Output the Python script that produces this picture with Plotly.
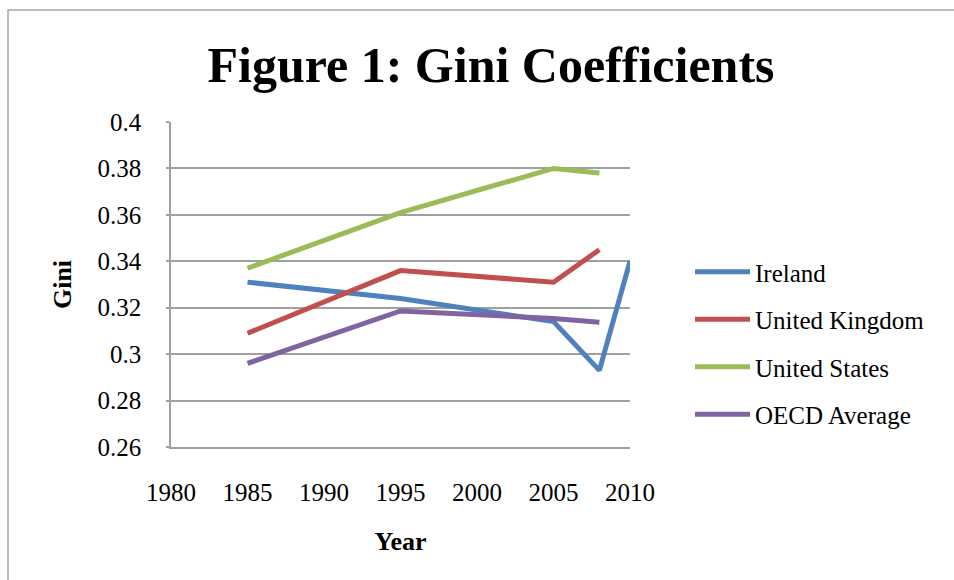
import plotly.graph_objects as go

years_ireland = [1985, 1995, 2005, 2008, 2010]
ireland = [0.331, 0.324, 0.314, 0.293, 0.340]
years = [1985, 1995, 2005, 2008]
united_kingdom = [0.309, 0.336, 0.331, 0.345]
united_states = [0.337, 0.361, 0.380, 0.378]
oecd_average = [0.296, 0.3186, 0.3154, 0.3137]

y_ticks = [0.26, 0.28, 0.30, 0.32, 0.34, 0.36, 0.38, 0.40]
y_tick_labels = ["0.26", "0.28", "0.3", "0.32", "0.34", "0.36", "0.38", "0.4"]
x_ticks = [1980, 1985, 1990, 1995, 2000, 2005, 2010]

FONT = "Liberation Serif"
W, H = 954, 580
L, R, T, B = 171, 324, 122, 133

fig = go.Figure()
series = [
    ("Ireland", years_ireland, ireland, "#4F81BD"),
    ("United Kingdom", years, united_kingdom, "#C0504D"),
    ("United States", years, united_states, "#9BBB59"),
    ("OECD Average", years, oecd_average, "#8064A2"),
]
for i, (name, xs, ys, col) in enumerate(series):
    fig.add_trace(go.Scatter(
        x=xs, y=ys, mode="lines", name=name, legendgroup=f"g{i}",
        line=dict(color=col, width=5),
    ))

pw = W - L - R
ph = H - T - B
fig.add_shape(
    type="rect", xref="paper", yref="paper",
    x0=(8 - L) / pw, x1=(W + 10 - L) / pw,
    y0=(H - B - (H + 10)) / ph, y1=(H - B - 10) / ph,
    line=dict(color="#A6A6A6", width=1.5), fillcolor="rgba(0,0,0,0)", layer="below",
)

fig.update_layout(
    width=W, height=H,
    margin=dict(l=L, r=R, t=T, b=B, pad=0),
    paper_bgcolor="white", plot_bgcolor="white",
    font=dict(family=FONT, size=25, color="black"),
    title=dict(
        text="<b>Figure 1: Gini Coefficients</b>",
        font=dict(family=FONT, size=50, color="black"),
        x=491 / W, xanchor="center", xref="container",
        y=1 - 64 / H, yanchor="middle", yref="container",
    ),
    xaxis=dict(
        range=[1980, 2010], tickvals=x_ticks, showgrid=False,
        showline=True, linecolor="#A0A0A0", linewidth=1.5,
        ticks="", ticklabelstandoff=22, zeroline=False,
        tickfont=dict(family=FONT, size=25),
        title=dict(text="<b>Year</b>", font=dict(family=FONT, size=26), standoff=27),
    ),
    yaxis=dict(
        range=[0.26, 0.40], tickvals=y_ticks, ticktext=y_tick_labels,
        showgrid=True, gridcolor="#A0A0A0", gridwidth=1.5,
        showline=True, linecolor="#A0A0A0", linewidth=1.5,
        ticks="outside", ticklen=3, tickcolor="#A0A0A0", tickwidth=1.5,
        ticklabelstandoff=20, zeroline=False,
        tickfont=dict(family=FONT, size=25),
        title=dict(text="<b>Gini</b>", font=dict(family=FONT, size=26), standoff=18),
    ),
    legend=dict(
        x=(690 - L) / pw, xanchor="left", y=(H - B - 343) / ph, yanchor="middle",
        font=dict(family=FONT, size=25), tracegroupgap=12,
        bgcolor="rgba(0,0,0,0)", itemwidth=55,
    ),
)

fig.write_html("out.html")
